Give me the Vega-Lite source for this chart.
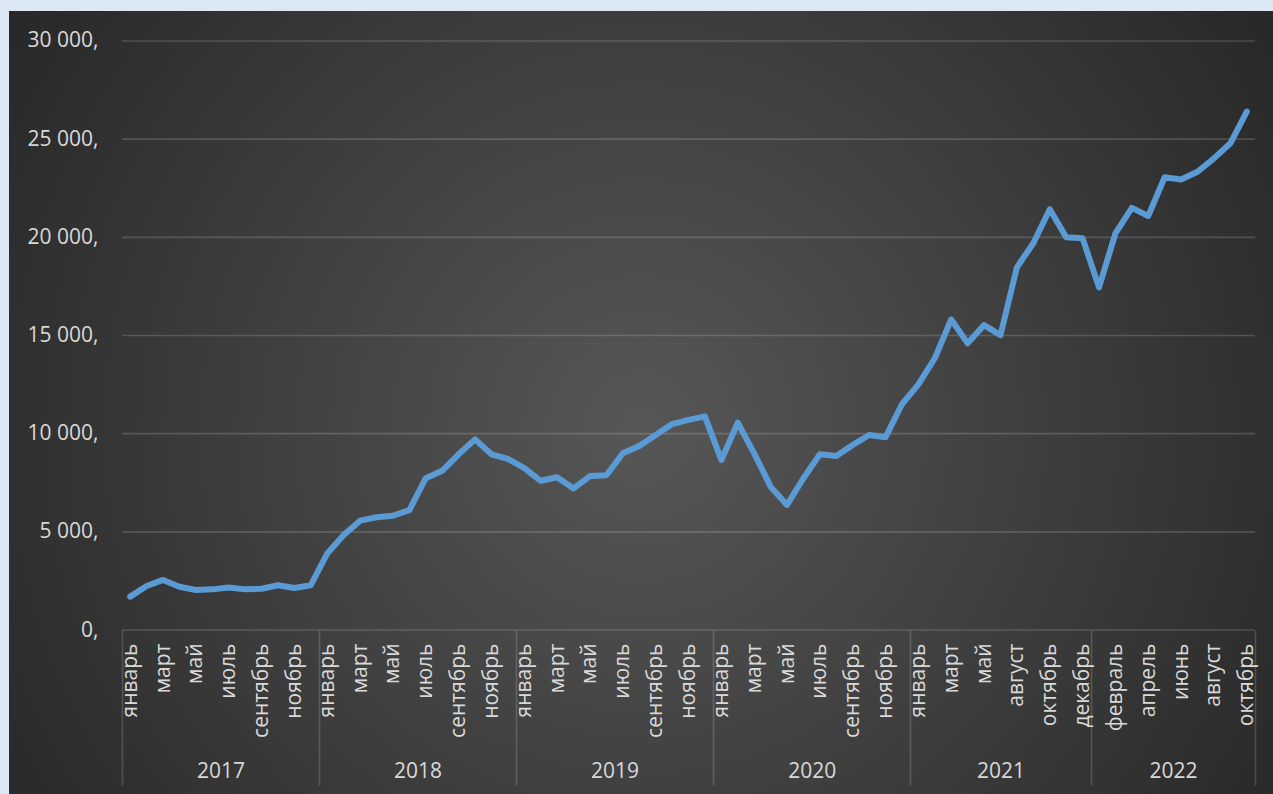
{
  "$schema": "https://vega.github.io/schema/vega-lite/v6.json",
  "width": 1264,
  "height": 783,
  "autosize": {"type": "none"},
  "padding": {"left": 9, "top": 11, "right": 0, "bottom": 0},
  "background": "#dde8f5",
  "config": {
    "view": {
      "stroke": null,
      "fill": {"gradient": "radial", "x1": 0.5, "y1": 0.52, "r1": 0, "x2": 0.5, "y2": 0.52, "r2": 0.62,
        "stops": [{"offset": 0, "color": "#575757"}, {"offset": 1, "color": "#262626"}]}
    },
    "axis": {"labelFont": "Open Sans", "labelColor": "#d9d9d9", "labelFontSize": 21, "grid": false, "domain": false, "title": null}
  },
  "data": {"values": [
    {"i": 0, "year": 2017, "month": "январь", "value": 1700},
    {"i": 1, "year": 2017, "month": "февраль", "value": 2240},
    {"i": 2, "year": 2017, "month": "март", "value": 2550},
    {"i": 3, "year": 2017, "month": "апрель", "value": 2200},
    {"i": 4, "year": 2017, "month": "май", "value": 2040},
    {"i": 5, "year": 2017, "month": "июнь", "value": 2070},
    {"i": 6, "year": 2017, "month": "июль", "value": 2170},
    {"i": 7, "year": 2017, "month": "август", "value": 2070},
    {"i": 8, "year": 2017, "month": "сентябрь", "value": 2100},
    {"i": 9, "year": 2017, "month": "октябрь", "value": 2280},
    {"i": 10, "year": 2017, "month": "ноябрь", "value": 2140},
    {"i": 11, "year": 2017, "month": "декабрь", "value": 2280},
    {"i": 12, "year": 2018, "month": "январь", "value": 3900},
    {"i": 13, "year": 2018, "month": "февраль", "value": 4840},
    {"i": 14, "year": 2018, "month": "март", "value": 5570},
    {"i": 15, "year": 2018, "month": "апрель", "value": 5740},
    {"i": 16, "year": 2018, "month": "май", "value": 5820},
    {"i": 17, "year": 2018, "month": "июнь", "value": 6110},
    {"i": 18, "year": 2018, "month": "июль", "value": 7730},
    {"i": 19, "year": 2018, "month": "август", "value": 8110},
    {"i": 20, "year": 2018, "month": "сентябрь", "value": 8950},
    {"i": 21, "year": 2018, "month": "октябрь", "value": 9710},
    {"i": 22, "year": 2018, "month": "ноябрь", "value": 8950},
    {"i": 23, "year": 2018, "month": "декабрь", "value": 8720},
    {"i": 24, "year": 2019, "month": "январь", "value": 8250},
    {"i": 25, "year": 2019, "month": "февраль", "value": 7600},
    {"i": 26, "year": 2019, "month": "март", "value": 7780},
    {"i": 27, "year": 2019, "month": "апрель", "value": 7210},
    {"i": 28, "year": 2019, "month": "май", "value": 7840},
    {"i": 29, "year": 2019, "month": "июнь", "value": 7880},
    {"i": 30, "year": 2019, "month": "июль", "value": 9000},
    {"i": 31, "year": 2019, "month": "август", "value": 9370},
    {"i": 32, "year": 2019, "month": "сентябрь", "value": 9930},
    {"i": 33, "year": 2019, "month": "октябрь", "value": 10490},
    {"i": 34, "year": 2019, "month": "ноябрь", "value": 10700},
    {"i": 35, "year": 2019, "month": "декабрь", "value": 10880},
    {"i": 36, "year": 2020, "month": "январь", "value": 8660},
    {"i": 37, "year": 2020, "month": "февраль", "value": 10560},
    {"i": 38, "year": 2020, "month": "март", "value": 9000},
    {"i": 39, "year": 2020, "month": "апрель", "value": 7300},
    {"i": 40, "year": 2020, "month": "май", "value": 6370},
    {"i": 41, "year": 2020, "month": "июнь", "value": 7730},
    {"i": 42, "year": 2020, "month": "июль", "value": 8950},
    {"i": 43, "year": 2020, "month": "август", "value": 8860},
    {"i": 44, "year": 2020, "month": "сентябрь", "value": 9420},
    {"i": 45, "year": 2020, "month": "октябрь", "value": 9930},
    {"i": 46, "year": 2020, "month": "ноябрь", "value": 9820},
    {"i": 47, "year": 2020, "month": "декабрь", "value": 11500},
    {"i": 48, "year": 2021, "month": "январь", "value": 12510},
    {"i": 49, "year": 2021, "month": "февраль", "value": 13840},
    {"i": 50, "year": 2021, "month": "март", "value": 15820},
    {"i": 51, "year": 2021, "month": "апрель", "value": 14600},
    {"i": 52, "year": 2021, "month": "май", "value": 15530},
    {"i": 53, "year": 2021, "month": "июль", "value": 15020},
    {"i": 54, "year": 2021, "month": "август", "value": 18470},
    {"i": 55, "year": 2021, "month": "сентябрь", "value": 19700},
    {"i": 56, "year": 2021, "month": "октябрь", "value": 21430},
    {"i": 57, "year": 2021, "month": "ноябрь", "value": 20000},
    {"i": 58, "year": 2021, "month": "декабрь", "value": 19950},
    {"i": 59, "year": 2022, "month": "январь", "value": 17450},
    {"i": 60, "year": 2022, "month": "февраль", "value": 20200},
    {"i": 61, "year": 2022, "month": "март", "value": 21500},
    {"i": 62, "year": 2022, "month": "апрель", "value": 21090},
    {"i": 63, "year": 2022, "month": "май", "value": 23060},
    {"i": 64, "year": 2022, "month": "июнь", "value": 22950},
    {"i": 65, "year": 2022, "month": "июль", "value": 23340},
    {"i": 66, "year": 2022, "month": "август", "value": 24020},
    {"i": 67, "year": 2022, "month": "сентябрь", "value": 24790},
    {"i": 68, "year": 2022, "month": "октябрь", "value": 26400}
  ]},
  "resolve": {"axis": {"x": "independent", "y": "independent"}},
  "layer": [
    {
      "data": {"values": [{"g": 5000}, {"g": 10000}, {"g": 15000}, {"g": 20000}, {"g": 25000}, {"g": 30000}]},
      "mark": {"type": "rule", "stroke": "#ffffff", "strokeOpacity": 0.16, "strokeWidth": 1.6},
      "encoding": {
        "x": {"datum": -0.5, "type": "quantitative", "scale": {"domain": [-7.382, 69.596], "nice": false, "zero": false},
          "axis": {"orient": "bottom", "offset": -164, "values": [5.5, 17.5, 29.5, 41.5, 53, 63.5], "ticks": false, "tickSize": 0,
            "labelPadding": 141, "labelBaseline": "middle", "labelFlush": false, "labelOverlap": false,
            "labelExpr": "['2017','2018','2019','2020','2021','2022'][indexof([5.5,17.5,29.5,41.5,53,63.5], datum.value)]"}},
        "x2": {"datum": 68.5},
        "y": {"field": "g", "type": "quantitative", "scale": {"domain": [-8353, 31528], "nice": false, "zero": false}, "axis": null}
      }
    },
    {
      "data": {"values": [{"g": 0}]},
      "mark": {"type": "rule", "stroke": "#ffffff", "strokeOpacity": 0.16, "strokeWidth": 1.6},
      "encoding": {
        "x": {"datum": -0.5, "type": "quantitative", "scale": {"domain": [-7.382, 69.596], "nice": false, "zero": false},
          "axis": {"orient": "bottom", "offset": -164, "values": [-0.5, 11.5, 23.5, 35.5, 47.5, 58.5, 68.5], "ticks": true, "tickSize": 155,
            "tickColor": "rgba(255,255,255,0.16)", "tickWidth": 1.6, "labels": false}},
        "x2": {"datum": 68.5},
        "y": {"field": "g", "type": "quantitative", "scale": {"domain": [-8353, 31528], "nice": false, "zero": false}, "axis": null}
      }
    },
    {
      "mark": {"type": "line", "stroke": "#5b9bd5", "strokeWidth": 6, "strokeCap": "round", "strokeJoin": "round"},
      "encoding": {
        "x": {"field": "i", "type": "quantitative", "scale": {"domain": [-7.382, 69.596], "nice": false, "zero": false},
          "axis": {"orient": "bottom", "offset": -164, "values": [0,2,4,6,8,10,12,14,16,18,20,22,24,26,28,30,32,34,36,38,40,42,44,46,48,50,52,54,56,58,60,62,64,66,68],
            "ticks": false, "tickSize": 0, "labelAngle": -90, "labelAlign": "right", "labelBaseline": "middle", "labelPadding": 13, "labelFlush": false, "labelOverlap": false,
            "labelExpr": "['январь','март','май','июль','сентябрь','ноябрь','январь','март','май','июль','сентябрь','ноябрь','январь','март','май','июль','сентябрь','ноябрь','январь','март','май','июль','сентябрь','ноябрь','январь','март','май','август','октябрь','декабрь','февраль','апрель','июнь','август','октябрь'][datum.value / 2]"}},
        "y": {"field": "value", "type": "quantitative", "scale": {"domain": [-8353, 31528], "nice": false, "zero": false},
          "axis": {"orient": "left", "offset": -89, "values": [0, 5000, 10000, 15000, 20000, 25000, 30000], "ticks": false, "tickSize": 0, "labelPadding": 0,
            "labelExpr": "replace(format(datum.value, ',d'), ',', ' ') + ','"}}
      }
    }
  ]
}
